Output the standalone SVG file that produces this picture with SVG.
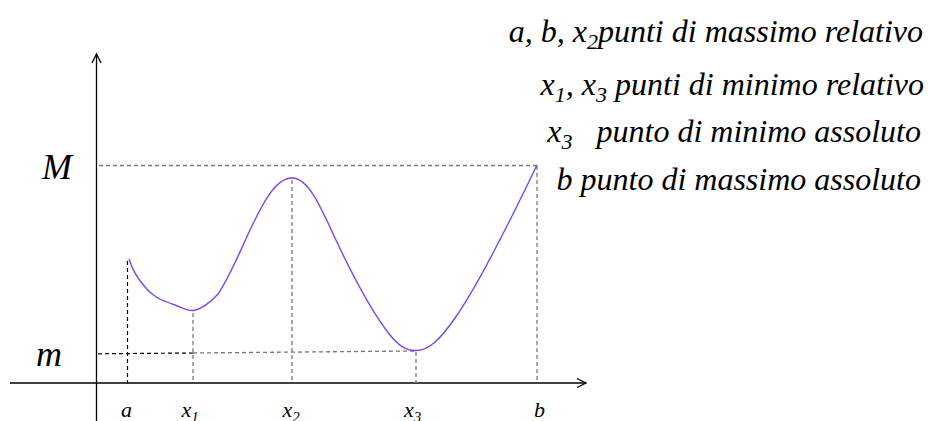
<svg xmlns="http://www.w3.org/2000/svg" width="929" height="421" viewBox="0 0 929 421">
<style>
.t{font-family:'Liberation Serif','DejaVu Serif',serif;font-style:italic;fill:#000;white-space:pre}
.big{font-size:36px}
.lab{font-size:22px}
.note{font-size:32px}
.ax{stroke:#000;stroke-width:1.3;fill:none}
.dg{stroke:#777;stroke-width:1.3;stroke-dasharray:4,3;fill:none}
.dk{stroke:#000;stroke-width:1.2;stroke-dasharray:4,3;fill:none}
.curve{stroke:#7b45f0;stroke-width:1.4;fill:none}
</style>
<rect width="929" height="421" fill="#fff"/>
<g id="axes">
<line class="ax" x1="96.5" y1="421" x2="96.5" y2="54"/>
<polyline class="ax" points="92,63 96.5,54 101,63"/>
<line class="ax" x1="10" y1="383" x2="586" y2="383"/>
<polyline class="ax" points="577,378.5 586,383 577,387.5"/>
</g>
<g id="guides">
<line class="dg" x1="99" y1="165.5" x2="537" y2="165.5"/>
<line class="dk" x1="98" y1="353.8" x2="193" y2="353"/>
<line class="dg" x1="193" y1="353" x2="415" y2="351"/>
<line class="dk" x1="127.5" y1="261" x2="127.5" y2="383"/>
<line class="dg" x1="193" y1="313" x2="193" y2="383"/>
<line class="dg" x1="292" y1="180" x2="292" y2="383"/>
<line class="dg" x1="416" y1="352" x2="416" y2="383"/>
<line class="dg" x1="537" y1="166" x2="537" y2="383"/>
</g>
<g id="curve">
<path class="curve" d="M129,259 C133,272 138,279 145,287 C152,296 160,300 175,305 C183,308 188,311 193,310.5 C200,310 210,303 218,294 C228,280 238,256 250,230 C262,205 275,178 292,178 C308,178 320,205 335,238 C350,270 370,310 390,335 C398,345 405,350 415,350.5 C428,351 440,340 455,318 C475,290 500,242 537,165"/>
</g>
<g id="axis-labels">
<text class="t big" x="42" y="179" font-family="Liberation Serif, serif">M</text>
<text class="t big" x="36" y="365.5">m</text>
<text class="t lab" x="121" y="417">a</text>
<text class="t lab" x="181.5" y="417">x<tspan font-size="15" dy="5">1</tspan></text>
<text class="t lab" x="282.5" y="417">x<tspan font-size="15" dy="5">2</tspan></text>
<text class="t lab" x="404" y="417">x<tspan font-size="15" dy="5">3</tspan></text>
<text class="t lab" x="534" y="417">b</text>
</g>
<g id="notes">
<text class="t note" x="923" y="41.5" text-anchor="end">a, b, x<tspan font-size="22" dy="7">2</tspan><tspan dy="-7">punti di massimo relativo</tspan></text>
<text class="t note" x="924" y="95" text-anchor="end">x<tspan font-size="22" dy="7">1</tspan><tspan dy="-7">, x</tspan><tspan font-size="22" dy="7">3</tspan><tspan dy="-7"> punti di minimo relativo</tspan></text>
<text class="t note" x="921" y="141.5" text-anchor="end">x<tspan font-size="22" dy="7">3</tspan><tspan dy="-7">   punto di minimo assoluto</tspan></text>
<text class="t note" x="921" y="190" text-anchor="end">b punto di massimo assoluto</text>
</g>
</svg>
